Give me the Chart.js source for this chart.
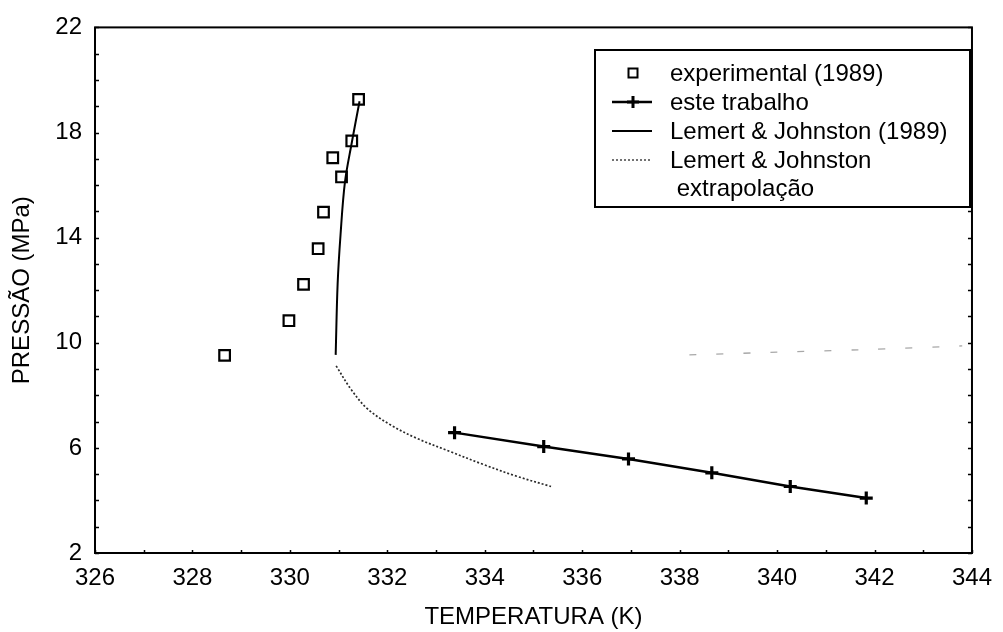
<!DOCTYPE html>
<html>
<head>
<meta charset="utf-8">
<script src="https://cdn.jsdelivr.net/npm/chart.js@4.4.1/dist/chart.umd.min.js"></script>
<style>
  html, body { margin: 0; padding: 0; background: #fff; }
  #wrap { width: 1003px; height: 632px; }
</style>
</head>
<body>
<div id="wrap"><canvas id="c" width="1003" height="632"></canvas></div>
<script>
// ---- data ----
const expT = [331.41, 331.27, 330.88, 331.06, 330.69, 330.58, 330.28, 329.98, 328.66];
const expP = [19.26, 17.68, 17.04, 16.31, 14.97, 13.58, 12.22, 10.84, 9.52];

const ourT = [333.38, 335.21, 336.95, 338.66, 340.27, 341.83];
const ourP = [6.58, 6.05, 5.58, 5.05, 4.53, 4.09];

const lemT = [331.43, 331.27, 331.13, 331.04, 330.98, 330.94];
const lemP = [19.19, 17.61, 16.11, 14.12, 12.24, 9.54];

const extT = [330.95, 331.25, 331.59, 332.07, 332.61, 333.29, 333.97, 334.64, 335.36];
const extP = [9.12, 8.24, 7.49, 6.87, 6.36, 5.86, 5.37, 4.93, 4.53];

const fadeT = [338.2, 340.0, 341.8, 343.8];
const fadeP = [9.54, 9.64, 9.74, 9.88];

const xTicks = [326, 328, 330, 332, 334, 336, 338, 340, 342, 344];
const yTicks = [2, 6, 10, 14, 18, 22];

const seriesLabels = ['experimental (1989)', 'este trabalho', 'Lemert & Johnston (1989)', 'Lemert & Johnston', ' extrapolação'];
const xTitle = 'TEMPERATURA (K)';
const yTitle = 'PRESSÃO (MPa)';

const pts = (xs, ys) => xs.map((x, i) => ({ x: x, y: ys[i] }));
const FONT = '"Liberation Sans", Arial, Helvetica, sans-serif';

// ---- frame, inward ticks and legend box ----
const framePlugin = {
  id: 'frame',
  afterDraw(chart) {
    const { ctx, chartArea: a, scales } = chart;
    const xs = scales.x, ys = scales.y;
    ctx.save();
    ctx.strokeStyle = '#000';
    ctx.lineWidth = 2;
    ctx.strokeRect(a.left, a.top, a.right - a.left, a.bottom - a.top);
    ctx.lineWidth = 1.5;
    ctx.beginPath();
    for (let v = ys.min; v <= ys.max; v += 1) {
      const y = Math.round(ys.getPixelForValue(v)) + 0.5;
      ctx.moveTo(a.left, y); ctx.lineTo(a.left + 4, y);
      ctx.moveTo(a.right, y); ctx.lineTo(a.right - 4, y);
    }
    for (let v = xs.min; v <= xs.max; v += 1) {
      const x = Math.round(xs.getPixelForValue(v)) + 0.5;
      ctx.moveTo(x, a.bottom); ctx.lineTo(x, a.bottom - 3);
    }
    ctx.stroke();

    // legend
    const L = 595, T = 50, R = 970, B = 207;
    ctx.fillStyle = '#fff';
    ctx.fillRect(L, T, R - L, B - T);
    ctx.lineWidth = 2;
    ctx.strokeStyle = '#000';
    ctx.strokeRect(L, T, R - L, B - T);
    const rows = [73, 102, 131, 160, 188];
    const sx0 = 612, sx1 = 652, sc = 633, tx = 670;
    ctx.font = '24px ' + FONT;
    ctx.fillStyle = '#000';
    ctx.textBaseline = 'middle';
    ctx.textAlign = 'left';
    seriesLabels.forEach((t, i) => ctx.fillText(t, tx, rows[i] + 1));
    // square
    ctx.lineWidth = 2;
    ctx.strokeRect(sc - 4.5, rows[0] - 4.5, 9, 9);
    // line + cross
    ctx.lineWidth = 2.5;
    ctx.beginPath(); ctx.moveTo(sx0, rows[1]); ctx.lineTo(sx1, rows[1]); ctx.stroke();
    ctx.lineWidth = 3;
    ctx.beginPath(); ctx.moveTo(sc, rows[1] - 6); ctx.lineTo(sc, rows[1] + 6);
    ctx.moveTo(sc - 6, rows[1]); ctx.lineTo(sc + 6, rows[1]); ctx.stroke();
    // solid
    ctx.lineWidth = 2;
    ctx.beginPath(); ctx.moveTo(sx0, rows[2]); ctx.lineTo(sx1, rows[2]); ctx.stroke();
    // dotted
    ctx.lineWidth = 1.6;
    ctx.strokeStyle = '#444';
    ctx.setLineDash([2, 2]);
    ctx.beginPath(); ctx.moveTo(sx0, rows[3]); ctx.lineTo(sx1, rows[3]); ctx.stroke();
    ctx.restore();
  }
};

new Chart(document.getElementById('c'), {
  type: 'scatter',
  data: {
    datasets: [
      {
        label: 'fade',
        data: pts(fadeT, fadeP),
        showLine: true,
        borderColor: '#a8a8a8',
        borderWidth: 1.3,
        borderDash: [7, 20],
        pointRadius: 0,
        tension: 0.2
      },
      {
        label: seriesLabels[3],
        data: pts(extT, extP),
        showLine: true,
        borderColor: '#2a2a2a',
        borderWidth: 1.7,
        borderDash: [2, 2],
        pointRadius: 0,
        tension: 0.35
      },
      {
        label: seriesLabels[2],
        data: pts(lemT, lemP),
        showLine: true,
        borderColor: '#000',
        borderWidth: 2,
        pointRadius: 0,
        tension: 0.35
      },
      {
        label: seriesLabels[1],
        data: pts(ourT, ourP),
        showLine: true,
        borderColor: '#000',
        borderWidth: 2.5,
        pointStyle: 'cross',
        pointRadius: 6.5,
        pointBorderWidth: 3.2,
        pointBorderColor: '#000',
        tension: 0
      },
      {
        label: seriesLabels[0],
        data: pts(expT, expP),
        showLine: false,
        pointStyle: 'rect',
        pointRadius: 7.5,
        pointBorderWidth: 2.2,
        pointBorderColor: '#000',
        pointBackgroundColor: '#fff'
      }
    ]
  },
  options: {
    responsive: false,
    animation: false,
    events: [],
    layout: { padding: { top: 20, right: 23, left: 0, bottom: 0 } },
    plugins: { legend: { display: false }, tooltip: { enabled: false } },
    scales: {
      x: {
        type: 'linear',
        min: 326, max: 344,
        afterBuildTicks: s => { s.ticks = xTicks.map(v => ({ value: v })); },
        afterFit: s => { s.height = 79; },
        grid: { display: false, drawTicks: false },
        border: { display: false },
        ticks: { color: '#000', font: { family: FONT, size: 24 }, padding: 11, maxRotation: 0, autoSkip: false },
        title: { display: true, text: xTitle, color: '#000', font: { family: FONT, size: 24 }, padding: { top: 0, bottom: 0 } }
      },
      y: {
        type: 'linear',
        min: 2, max: 22,
        afterBuildTicks: s => { s.ticks = yTicks.map(v => ({ value: v })); },
        afterFit: s => { s.width = 95; },
        grid: { display: false, drawTicks: false },
        border: { display: false },
        ticks: { color: '#000', font: { family: FONT, size: 24 }, padding: 13, autoSkip: false },
        title: { display: true, text: yTitle, color: '#000', font: { family: FONT, size: 24 }, padding: { top: 8, bottom: 0 } }
      }
    }
  },
  plugins: [framePlugin]
});
</script>
</body>
</html>
